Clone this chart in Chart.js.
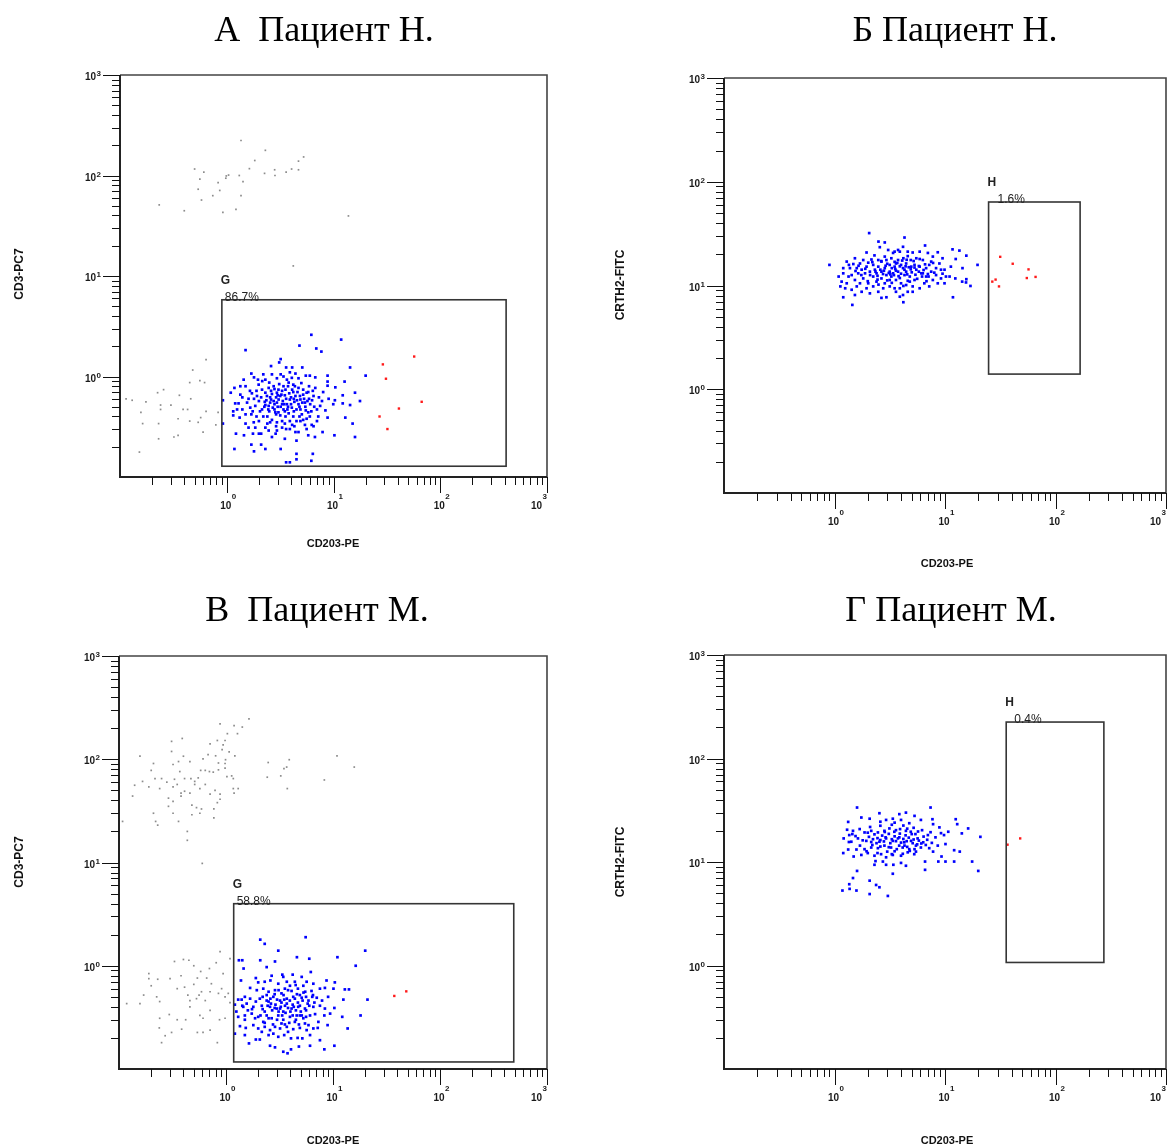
<!DOCTYPE html>
<html>
<head>
<meta charset="utf-8">
<script src="https://cdn.jsdelivr.net/npm/chart.js@4.4.1/dist/chart.umd.min.js"></script>
<style>
    body { margin: 0; background: #fff; width: 1170px; height: 1146px; position: relative; overflow: hidden; }
    .panel { position: absolute; width: 585px; height: 573px; }
    canvas { display: block; }
</style>
</head>
<body>
<div class="panel" style="left:0;top:0"><canvas id="chartA" width="585" height="573"></canvas></div>
<div class="panel" style="left:585px;top:0"><canvas id="chartB" width="585" height="573"></canvas></div>
<div class="panel" style="left:0;top:573px"><canvas id="chartC" width="585" height="573"></canvas></div>
<div class="panel" style="left:585px;top:573px"><canvas id="chartD" width="585" height="573"></canvas></div>
<script>
// ---- events: [CD203-PE, second marker] ----
// A: CD203-PE / CD3-PC7, пациент Н.
const aBlue = [
    [6.2,2.6],[11.8,2.33],[1.5,1.83],[4.8,2.03],[6.9,1.9],[7.7,1.77],[3.2,1.49],[3.1,1.38],[14.3,1.23],[20,1.02],
    [2.6,1.27],[3.6,1.23],[4.1,1.23],[5.1,1.23],[1.7,1.07],[1.8,0.98],[2.2,1.05],[2.65,1.05],[3.2,1.05],[3.9,1.1],
    [4.4,1.07],[5.5,1.02],[6.0,1.02],[6.75,0.98],[8.8,1.02],[8.8,0.89],[8.8,0.81],[10.4,0.78],[12.7,0.89],[15.9,0.69],
    [17.7,0.57],[12.2,0.65],[12.2,0.54],[14.3,0.52],[12.9,0.39],[15.1,0.34],[15.9,0.25],[10.2,0.26],[7.9,0.28],[8.8,0.39],
    [6.7,0.25],[6.4,0.17],[4.5,0.17],[4.5,0.15],[3.9,0.14],[3.6,0.14],[6.2,0.145],[3.2,0.19],[2.3,0.19],[2.1,0.21],
    [1.8,0.18],[1.7,0.21],[1.18,0.19],[1.76,0.27],[2.1,0.27],[2.87,0.27],[1.22,0.27],[1.45,0.26],[0.92,0.58],[0.92,0.34],
    [1.09,0.69],[1.18,0.77],[1.15,0.45],[1.15,0.41],[1.2,0.54],[1.32,0.39],[1.5,0.34],[1.6,0.31],[1.5,0.42],[1.7,0.42],
    [1.5,0.8],[1.72,0.68],[2.0,0.57],[1.85,0.51],[2.3,0.52],[2.5,0.45],[2.4,0.40],[2.65,0.37],[2.95,0.35],[3.5,0.34],
    [4.1,0.33],[4.7,0.28],[5.4,0.33],[5.6,0.38],[5.05,0.42],[4.5,0.47],[4.07,0.49],[3.5,0.45],[3.17,0.41],[2.85,0.44],
    [2.7,0.49],[2.47,0.51],[2.6,0.59],[2.95,0.55],[3.3,0.53],[3.66,0.53],[3.9,0.59],[4.4,0.64],[4.9,0.59],[5.4,0.55],
    [6.05,0.53],[6.5,0.64],[6.75,0.77],[5.9,0.8],[5.2,0.74],[4.7,0.77],[4.2,0.83],[3.8,0.87],[3.4,0.8],[3.05,0.74],
    [2.75,0.8],[2.47,0.77],[2.3,0.69],[2.14,0.74],[1.99,0.83],[1.92,0.64],[2.14,0.47],[2.2,0.40],[2.0,0.36],[1.79,0.35],
    [3.3,0.31],[3.9,0.30],[4.5,0.36],[6.25,0.33],[7.2,0.40],[7.5,0.51],[7.0,0.47],[7.8,0.57],[8.4,0.46],[9.95,0.53],
    [10.3,0.58],[5.8,0.44],[5.2,0.66],[5.6,0.69],[4.9,0.47],[3.5,0.65],[3.17,0.64],[2.95,0.69],[2.65,0.67],[2.38,0.64],
    [2.27,0.56],[2.8,0.53],[3.06,0.59],[3.4,0.47],[3.8,0.43],[4.2,0.40],[4.7,0.53],[5.2,0.37],[3.66,0.93],[4.07,0.97],
    [4.7,0.96],[2.95,0.96],[2.3,0.93],[1.96,0.93],[1.44,0.93],[1.34,0.8],[1.34,0.66],[1.55,0.55],[1.66,0.49],[1.29,0.54],
    [4.4,0.28],[2.95,0.29],[2.47,0.29],[2.65,0.25],[3.5,0.24],[4.5,0.23],[5.8,0.26],[6.5,0.32],[2.3,0.31],[2.0,0.27],
    [1.85,0.31],[2.55,0.62],[2.9,0.62],[3.25,0.66],[3.6,0.6],[4.0,0.62],[4.3,0.56],[3.75,0.5],[3.35,0.57],[3.0,0.5],
    [2.75,0.57],[2.45,0.47],[2.9,0.42],[3.55,0.40],[4.25,0.45],[4.8,0.5],[5.3,0.6],[5.7,0.57],[4.6,0.7],[4.1,0.74],
    [3.55,0.74],[3.1,0.84],[2.6,0.72],[2.35,0.58],[3.85,0.68],[4.35,0.8],[5.0,0.86],[5.5,0.46],[6.2,0.45],[6.6,0.5],
    [3.3,0.36],[3.9,0.36],[2.55,0.35],[4.8,0.4],[5.8,0.7],[6.3,0.58],[2.05,0.45],[1.8,0.6],[1.65,0.72],[2.15,0.9],
    [3.4,1.0],[1.4,0.47],[1.6,0.6],[1.75,0.45],[1.9,0.4],[2.1,0.62],[2.25,0.5],[2.55,0.55],[2.8,0.47],[3.05,0.44],
    [3.2,0.5],[3.45,0.53],[3.7,0.47],[4.0,0.53],[4.25,0.6],[4.55,0.58],[4.85,0.64],[5.1,0.55],[5.45,0.5],[5.9,0.6],
    [6.4,0.72],[3.0,0.65],[3.3,0.72],[3.75,0.8],[4.2,0.7],[2.8,0.75],[2.5,0.87],[1.9,0.72],[4.9,0.36],[4.3,0.32],
    [3.6,0.3],[2.9,0.32],[2.4,0.34],[5.6,0.3],[7.3,0.62],[8.0,0.7],[9.0,0.6],[7.0,0.36],[6.0,0.4],[1.4,0.62],
    [1.25,0.47]
];
const aGray = [
    [0.114,0.60],[0.13,0.58],[0.175,0.56],[0.157,0.44],[0.163,0.34],[0.152,0.177],[0.23,0.24],[0.23,0.34],[0.24,0.52],[0.225,0.69],
    [0.256,0.74],[0.30,0.52],[0.32,0.25],[0.36,0.65],[0.39,0.47],[0.35,0.38],[0.43,0.47],[0.46,0.60],[0.48,1.16],[0.45,0.87],
    [0.45,0.36],[0.57,0.39],[0.54,0.35],[0.64,1.47],[0.56,0.91],[0.62,0.87],[0.64,0.45],[0.60,0.28],[0.79,0.33],[0.83,0.44],
    [0.1,0.30],[0.35,0.26],[0.24,0.47],
    [0.233,51],[0.40,44.6],[0.50,116],[0.61,108],[0.56,92],[0.54,73],[0.58,57],[0.74,63],[0.83,85],[0.86,71],
    [0.92,43],[0.99,99],[1.04,101],[0.98,94],[1.22,46],[1.31,100],[1.42,87],[1.36,63],[1.36,223],[1.63,117],
    [1.83,141],[2.3,178],[2.26,105],[2.83,100],[2.81,114],[3.6,108],[4.05,116],[4.7,139],[4.7,114],[5.25,153],
    [13.8,39.6],[4.2,12.6]
];
const aRed = [[57,1.58],[29,1.32],[31,0.95],[67,0.56],[41,0.48],[27,0.40],[32,0.30]];
const gateA = [0.9, 414, 0.128, 5.8];          // CD203 from/to, CD3 from/to

// Б: CD203-PE / CRTH2-FITC, пациент Н.
const bBlue = [
    [2.06,32],[0.9,15.8],[2.85,26],[4.3,29],[2.5,26.5],[6.6,24.3],[1.95,20.8],[2.57,23.4],[3.5,21.2],[3.9,21.2],
    [5.1,20.8],[8.6,20.9],[11.7,22.3],[15.6,19.4],[12.5,18],[19.7,15.8],[14.4,14.7],[15.6,11.5],[17,9.9],[14.3,10.9],
    [11.8,7.7],[9.9,14.2],[10.2,12.2],[8.9,16.3],[7.5,17],[6.3,17.6],[5.5,18.3],[4.6,19.2],[4.2,18.3],[3.76,17.6],
    [3.27,18.3],[2.85,19],[2.49,17.6],[2.16,17.8],[1.82,17.6],[1.53,18.3],[1.48,16.1],[1.29,17],[1.2,14.7],[1.09,12.2],
    [1.16,10.9],[1.13,9.8],[1.25,9.4],[1.43,9.1],[1.59,9.8],[1.7,10.5],[1.82,11.7],[1.64,13.1],[1.43,12.6],[1.38,14.7],
    [1.59,14.7],[1.76,14.2],[1.95,15.2],[2.09,13.6],[2.24,12.2],[2.4,10.9],[2.24,9.8],[1.95,9.4],[1.76,8.7],[1.53,8.1],
    [1.2,7.7],[1.45,6.5],[2.66,7.6],[2.95,7.7],[3.9,7.8],[4.2,6.9],[4.6,8.7],[3.6,8.7],[3.16,9.8],[2.85,10.5],
    [2.66,11.7],[2.95,12.6],[3.27,12.2],[3.6,11.3],[4.0,10.5],[4.45,10.1],[5.1,9.8],[5.9,9.4],[6.5,10.5],[7.2,9.8],
    [7.76,11.3],[8.6,10.5],[6.75,12.2],[6.1,13.1],[5.5,14.2],[4.95,15.2],[4.45,16.3],[4.17,14.7],[3.76,13.6],[3.5,15.2],
    [3.16,15.8],[2.85,14.7],[2.66,13.6],[2.49,15.2],[2.4,13.1],[3.16,13.6],[3.39,13.1],[4.3,12.6],[4.8,12.2],[5.3,11.3],
    [4.8,10.9],[5.3,15.8],[5.9,15.2],[6.75,14.7],[7.5,13.6],[8.3,12.6],[9.2,11.7],[9.9,10.5],[11,12.2],[12.4,11.7],
    [11.3,15.2],[9.5,18.3],[7.76,19],[7,20.6],[5.9,21.2],[4.6,21.2],[4.17,23.6],[3.76,22],[3.39,20.6],[3.06,22],
    [2.95,17.6],[2.66,17],[2.24,15.8],[2.02,16.6],[1.7,16.3],[3.16,11.3],[2.76,9.4],[2.49,8.7],[2.09,8.4],[2.02,10.5],
    [3.9,9.4],[3.5,9.4],[5.1,8.7],[4.17,8.1],[7.1,12.2],[15.5,10.7],[13.5,21.7],[6.3,13.1],[4.0,15.8],[4.45,13.6],
    [3.6,16.3],[2.32,14.2],[1.89,13.1],[1.53,11.3],[1.34,12.2],[1.2,13.1],[1.29,10.5],[9.2,14.2],[8.3,14.7],
    [2.6,14.2],[2.9,15.5],[3.3,14.7],[3.6,13.9],[3.9,15.3],[4.3,14.2],[4.7,15],[5.0,13.4],[2.35,13.6],[2.75,12.9],
    [3.1,13.2],[3.45,12.6],[3.8,12.3],[4.55,12.8],[5.4,12.7],[5.8,15.4],[2.2,16.8],[2.65,17.2],[3.5,16.9],[4.1,17.4],
    [4.9,17.6],[1.9,14.5],[1.65,15.5],[6.6,16],[7.2,15.8],[6.2,12.2],[3.0,11.2],[3.9,11.8],[4.6,11.1],[2.45,11.4],
    [2.1,12.6],[2.45,12.4],[2.8,13.9],[3.2,12.8],[3.55,14.4],[4.0,13.0],[4.4,15.3],[4.9,14.3],[5.3,14.9],[5.8,13.6],
    [6.4,14.1],[7.0,12.9],[3.0,16.2],[3.7,16.5],[4.5,17.7],[5.2,17.2],[5.9,18.0],[2.5,10.2],[3.3,10.6],[4.2,9.9],
    [1.75,12.6],[1.55,13.8],[2.0,11.0],[5.6,11.6],[6.8,11.0],[8.0,13.3],[9.5,13],[7.8,16.5],[1.35,15.8],[2.3,19.5]
];
const bRed = [[31.6,18.9],[41,16.2],[57,14.3],[66,12.1],[55,11.8],[28.7,11.4],[26.8,10.9],[30.8,9.8]];
const gateB = [24.8, 167, 1.4, 63.8];           // CD203 from/to, CRTH2 from/to

// В: CD203-PE / CD3-PC7, пациент М.
const cBlue = [
    [5.55,1.89],[2.09,1.79],[2.3,1.63],[3.08,1.40],[20,1.40],[4.6,1.21],[6.0,1.17],[11,1.21],[1.32,1.13],[1.42,1.13],
    [2.09,1.13],[2.87,1.1],[16.3,1.0],[1.46,0.94],[2.4,0.97],[6.2,0.87],[3.36,0.82],[4.2,0.82],[1.9,0.76],[1.38,0.72],
    [2.6,0.72],[2.3,0.70],[3.08,0.67],[3.7,0.70],[4.4,0.70],[5.67,0.70],[6.55,0.67],[8.7,0.72],[10.4,0.69],[2.0,0.69],
    [1.68,0.61],[1.94,0.58],[2.23,0.60],[2.5,0.56],[2.87,0.58],[3.3,0.54],[3.8,0.58],[4.7,0.60],[5.5,0.56],[6.3,0.57],
    [7.55,0.60],[8.4,0.61],[10.1,0.60],[12.9,0.59],[14.1,0.59],[1.5,0.50],[1.68,0.48],[1.3,0.47],[2.07,0.48],[2.4,0.46],
    [2.77,0.50],[3.2,0.46],[3.7,0.48],[4.25,0.50],[5.1,0.49],[5.9,0.46],[7.05,0.49],[7.9,0.46],[9.0,0.50],[12.5,0.47],
    [21,0.47],[1.21,0.42],[1.42,0.41],[1.56,0.43],[1.8,0.40],[2.16,0.41],[2.58,0.40],[2.98,0.385],[3.56,0.41],[4.1,0.385],
    [4.73,0.40],[5.47,0.385],[6.55,0.40],[7.55,0.41],[8.4,0.385],[10.3,0.39],[1.3,0.32],[1.5,0.33],[1.74,0.344],[2.0,0.32],
    [2.4,0.33],[2.67,0.31],[3.08,0.33],[3.43,0.30],[3.96,0.32],[4.58,0.33],[5.28,0.31],[6.1,0.33],[6.8,0.34],[8.3,0.33],
    [9.4,0.344],[12.2,0.32],[18.1,0.33],[1.35,0.26],[1.53,0.25],[1.8,0.266],[2.0,0.247],[2.3,0.256],[2.58,0.238],[2.87,0.256],
    [3.2,0.247],[3.7,0.256],[4.25,0.243],[4.9,0.25],[5.9,0.266],[6.55,0.247],[7.2,0.25],[8.9,0.266],[13.7,0.247],[1.21,0.22],
    [1.9,0.193],[1.64,0.177],[2.07,0.193],[2.5,0.213],[3.08,0.205],[3.5,0.213],[4.05,0.198],[4.67,0.2],[5.17,0.198],[6.1,0.213],
    [7.55,0.19],[2.58,0.168],[2.87,0.162],[3.43,0.147],[3.76,0.142],[4.05,0.155],[4.8,0.165],[6.1,0.168],[8.3,0.155],[10.3,0.168],
    [2.67,0.80],[3.43,0.78],[5.1,0.78],[4.48,0.65],[3.96,0.64],[5.28,0.64],[6.4,0.5],[2.63,0.43],[3.43,0.36],[2.3,0.36],
    [1.87,0.31],[2.23,0.286],[3.3,0.276],[4.4,0.286],[5.47,0.276],[7.3,0.286],[1.5,0.3],[5.67,0.238],[3.8,0.229],[2.77,0.22],
    [2.16,0.229],[1.5,0.213],[5.1,0.33],[3.2,0.385],
    [2.5,0.45],[2.9,0.42],[3.3,0.44],[3.7,0.43],[4.2,0.42],[4.7,0.44],[5.2,0.46],[2.7,0.37],[3.1,0.36],[3.6,0.35],
    [4.0,0.36],[4.5,0.37],[5.0,0.36],[5.6,0.37],[2.2,0.38],[1.9,0.45],[1.6,0.37],[2.4,0.52],[2.85,0.53],[3.45,0.52],
    [4.6,0.53],[5.3,0.55],[6.0,0.41],[6.7,0.44],[3.9,0.28],[4.5,0.3],[3.0,0.3],[2.3,0.28],[1.4,0.47],[1.25,0.36],
    [2.2,0.5],[2.6,0.48],[3.0,0.47],[3.5,0.47],[3.95,0.46],[4.4,0.48],[4.9,0.52],[5.6,0.5],[2.45,0.41],[2.85,0.39],
    [3.25,0.4],[3.8,0.39],[4.3,0.4],[4.9,0.41],[5.8,0.43],[2.1,0.33],[2.5,0.31],[3.35,0.33],[4.2,0.33],[4.9,0.33],
    [5.6,0.32],[1.75,0.38],[1.45,0.4],[3.55,0.27],[4.8,0.27],[2.75,0.27],[3.1,0.58],[3.55,0.6],[4.1,0.57],[6.5,0.52]
];
const cGray = [
    [1.64,246],[0.88,220],[1.19,212],[1.42,205],[1.03,177],[1.28,177],[0.31,149],[0.39,159],[0.71,141],[0.83,152],
    [0.98,152],[0.94,138],[0.92,124],[1.07,118],[1.21,108],[0.157,107],[0.31,119],[0.40,107],[0.68,111],[0.80,108],
    [0.99,99],[0.98,91],[0.85,92],[0.61,101],[0.46,95],[0.36,95],[0.32,89],[0.21,91],[0.20,78],[0.166,61],
    [0.217,65],[0.25,65],[0.28,60],[0.33,64],[0.37,76],[0.41,65],[0.47,65],[0.51,57],[0.55,66],[0.58,78],
    [0.64,78],[0.70,76],[0.76,75],[0.85,79],[0.98,82],[1.02,68],[1.13,69],[1.17,65],[1.30,52],[1.19,47],
    [0.88,46],[0.79,50],[0.71,46],[0.64,57],[0.57,52],[0.51,61],[0.46,47],[0.41,49],[0.38,47],[0.35,57],
    [0.32,54],[0.29,42],[0.32,39],[0.38,44],[0.48,36],[0.53,34],[0.59,33],[0.88,41],[0.83,38],[0.77,33],
    [0.77,27],[0.57,30],[0.48,29],[0.32,30],[0.29,35],[0.21,30],[0.22,25],[0.23,23],[0.134,44],[0.108,25],
    [0.14,56],[0.19,54],[0.24,52],[0.36,25],[0.435,20],[0.435,16.4],[0.60,9.8],[1.17,52],
    [2.48,93],[2.43,67],[3.25,69],[3.48,81],[3.69,84],[3.9,99],[3.74,52],[8.3,63],[10.9,108],[15.8,84],
    [0.88,1.37],[0.81,1.07],[0.70,0.94],[0.58,0.88],[0.50,1.0],[0.45,1.13],[0.40,1.15],[0.33,1.1],[0.54,0.76],[0.66,0.76],
    [0.73,0.67],[0.91,0.60],[0.85,0.54],[0.98,0.50],[1.09,0.44],[1.09,1.17],[0.94,0.84],[0.71,0.56],[0.59,0.56],[0.53,0.48],
    [0.46,0.46],[0.50,0.66],[0.41,0.62],[0.38,0.80],[0.35,0.60],[0.30,0.75],[0.23,0.74],[0.19,0.84],[0.20,0.64],[0.17,0.52],
    [0.157,0.43],[0.118,0.43],[0.225,0.50],[0.24,0.45],[0.295,0.337],[0.35,0.30],[0.42,0.30],[0.46,0.40],[0.57,0.33],[0.61,0.31],
    [0.71,0.37],[0.87,0.30],[0.98,0.31],[0.385,0.243],[0.31,0.226],[0.238,0.25],[0.27,0.21],[0.54,0.226],[0.61,0.226],[0.71,0.238],
    [0.25,0.18],[0.83,0.18],[0.1,0.39],[0.1,0.35],[0.24,0.31],[0.19,0.75],[1.05,0.54],[0.44,0.52],[0.56,0.52],[0.64,0.46]
];
const cRed = [[48.4,0.565],[37.4,0.51]];
const gateC = [1.18, 489, 0.117, 3.99];

// Г: CD203-PE / CRTH2-FITC, пациент М.
const dBlue = [
    [1.6,33.6],[7.4,33.6],[2.55,29.6],[5.3,27.9],[1.75,26.9],[1.33,24.4],[2.08,26.2],[2.93,25.5],[3.37,26.2],[4.0,25.5],
    [4.75,23.7],[6.05,25.5],[7.7,25.9],[12.5,25.9],[7.8,23.2],[8.9,21.6],[12.9,23.2],[16.2,21.1],[14.2,18.9],[20.9,17.5],
    [10.7,19.6],[9.8,18.2],[10.1,14.9],[12.1,13],[13.6,12.6],[17.6,10.1],[20,8.2],[12.1,10.1],[10.1,10.1],[8.7,10.1],
    [6.6,10.1],[9.3,11.3],[7.8,12.6],[7.2,13.6],[6.35,15.5],[5.65,16.9],[5.0,18.6],[4.43,20],[3.92,20.8],[3.48,19.6],
    [3.14,21.1],[2.83,20],[2.47,19.3],[2.15,20],[1.87,19.3],[1.69,20.8],[1.47,20],[1.36,18.2],[1.21,16.9],[1.42,15.7],
    [1.63,16.9],[1.94,16],[2.23,16.6],[2.55,15.7],[2.93,16.9],[3.37,16],[3.86,17.3],[4.28,15.5],[4.93,16],[5.46,14.4],
    [6.05,13.8],[5.46,12.6],[4.75,13.3],[4.14,13.8],[3.66,13.3],[3.25,13.8],[2.83,14.4],[2.47,13.6],[2.15,13.8],[1.87,13.3],
    [1.58,13.2],[1.33,13.2],[1.2,12.2],[1.49,11.3],[1.75,11.7],[2.0,12.2],[2.3,11.5],[2.64,11.9],[2.93,11.1],[3.37,11.7],
    [4.0,11.5],[4.6,12.4],[5.27,11.9],[2.35,10.2],[2.74,10.1],[2.93,9.4],[2.3,9.4],[3.41,9.4],[4.0,9.8],[4.43,9.2],
    [1.6,8.2],[6.6,8.4],[3.37,7.7],[2.08,6.6],[1.36,6.1],[1.47,7.0],[2.38,6.0],[2.55,5.7],[1.18,5.3],[1.37,5.5],
    [1.58,5.3],[2.08,4.9],[3.04,4.7],[3.86,29],[4.43,30],
    [2.3,18.5],[2.7,18],[3.1,18.7],[3.5,17.7],[3.9,18.8],[4.4,18.1],[4.9,19.6],[5.4,18.6],[2.05,17.5],[1.8,16.2],
    [2.4,15.2],[2.8,15.8],[3.2,15.2],[3.6,15.9],[4.0,15.4],[4.5,15.9],[5.1,15.2],[5.8,16.1],[6.4,17.6],[7.0,18.2],
    [2.2,14.6],[2.6,14.1],[3.0,12.6],[3.5,12.7],[4.3,14.4],[4.8,12.8],[5.3,13.3],[6.7,14.6],[7.6,15.3],[8.2,17.3],
    [1.55,17.8],[1.35,15.6],[1.3,20.5],[2.1,21.8],[2.6,22.4],[3.3,22.9],[4.2,22.5],[5.2,21.4],[6.2,20.3],[9.2,19],
    [2.45,17.0],[2.9,17.3],[3.3,16.6],[3.75,16.9],[4.2,16.7],[4.7,17.2],[5.2,16.5],[2.15,15.6],[2.6,16.3],[3.1,13.9],
    [3.85,14.4],[4.55,14.0],[5.6,14.8],[6.1,15.1],[2.0,19.2],[2.85,19.5],[3.6,20.3],[4.55,21.0],[5.7,19.7],[1.95,12.7],
    [2.45,12.2],[3.3,11.9],[4.15,12.0],[1.7,14.4],[1.45,18.6],[6.9,16.4],[7.4,19.4],[8.6,14.4],[3.5,24.0],[2.6,24.5]
];
const dRed = [[36.8,14.7],[47.9,16.9]];
const gateD = [35.8, 274, 1.07, 225];

// axis decades (10^-1 .. 10^3) and labelled exponents
const decades = [0.1, 1, 10, 100, 1000];
const labelExponents = [0, 1, 2, 3];

const sans = '"Liberation Sans", Arial, Helvetica, sans-serif';

function toXY(list) {
    return list.map(p => ({ x: p[0], y: p[1] }));
}

// "10" with a raised exponent; anchor = 'center' | 'right' (of the whole label)
function drawPow(ctx, exp, x, baseY, anchor, supRaise) {
    ctx.font = 'bold 10px ' + sans;
    const wBase = ctx.measureText('10').width;
    ctx.font = 'bold 8px ' + sans;
    const wSup = ctx.measureText(String(exp)).width;
    let left;
    if (anchor === 'right') left = x - wBase - wSup - 0.5;
    else left = x - wBase / 2 - 1;
    ctx.textAlign = 'left';
    ctx.textBaseline = 'alphabetic';
    ctx.fillStyle = '#1a1a1a';
    ctx.font = 'bold 10px ' + sans;
    ctx.fillText('10', left, baseY);
    ctx.font = 'bold 8px ' + sans;
    ctx.fillText(String(exp), left + wBase + 0.5, baseY - supRaise);
}

// frame, log ticks, labels, gate and titles around the dot plot
const cytoFrame = {
    id: 'cytoFrame',
    afterDatasetsDraw(chart, args, o) {
        const { ctx, chartArea: a, scales } = chart;
        const sx = scales.x, sy = scales.y;
        ctx.save();

        // gate rectangle + its name and percentage
        const gx1 = sx.getPixelForValue(o.gate[0]);
        const gx2 = sx.getPixelForValue(o.gate[1]);
        const gy1 = sy.getPixelForValue(o.gate[3]);
        const gy2 = sy.getPixelForValue(o.gate[2]);
        ctx.strokeStyle = '#353535';
        ctx.lineWidth = 1.6;
        ctx.strokeRect(gx1, gy1, gx2 - gx1, gy2 - gy1);
        ctx.fillStyle = '#222';
        ctx.textAlign = 'left';
        ctx.textBaseline = 'alphabetic';
        ctx.font = 'bold 12px ' + sans;
        ctx.fillText(o.gateName, gx1 - 1, gy1 - 16);
        ctx.font = '12px ' + sans;
        ctx.fillText(o.gatePct, gx1 + o.pctShift, gy1 + 1);

        // top / right border
        ctx.strokeStyle = '#444';
        ctx.lineWidth = 1.6;
        ctx.beginPath();
        ctx.moveTo(a.left, a.top);
        ctx.lineTo(a.right, a.top);
        ctx.lineTo(a.right, a.bottom);
        ctx.stroke();

        // axis lines
        ctx.strokeStyle = '#222';
        ctx.lineWidth = 2;
        ctx.beginPath();
        ctx.moveTo(a.left, a.top);
        ctx.lineTo(a.left, a.bottom);
        ctx.lineTo(a.right, a.bottom);
        ctx.stroke();

        // log ticks: decades long, 2..9 short
        ctx.strokeStyle = '#111';
        ctx.lineWidth = 1;
        ctx.beginPath();
        decades.forEach((d, i) => {
            if (i > 0) {
                const px = Math.round(sx.getPixelForValue(d)) + 0.5;
                ctx.moveTo(px, a.bottom);
                ctx.lineTo(px, a.bottom + 16);
                const py = Math.round(sy.getPixelForValue(d)) + 0.5;
                ctx.moveTo(a.left, py);
                ctx.lineTo(a.left - 17, py);
            }
            if (d < 1000) {
                for (let m = 2; m <= 9; m++) {
                    const px = Math.round(sx.getPixelForValue(d * m)) + 0.5;
                    ctx.moveTo(px, a.bottom);
                    ctx.lineTo(px, a.bottom + 8);
                    const py = Math.round(sy.getPixelForValue(d * m)) + 0.5;
                    ctx.moveTo(a.left, py);
                    ctx.lineTo(a.left - 8, py);
                }
            }
        });
        ctx.stroke();

        // decade labels
        labelExponents.forEach(e => {
            const v = Math.pow(10, e);
            const px = sx.getPixelForValue(v);
            const last = e === labelExponents[labelExponents.length - 1];
            drawPow(ctx, e, px, a.bottom + 32, last ? 'right' : 'center', 10);
            const py = sy.getPixelForValue(v);
            drawPow(ctx, e, a.left - 19, py + 5, 'right', 4);
        });

        // axis titles
        ctx.fillStyle = '#111';
        ctx.font = 'bold 11px ' + sans;
        ctx.textAlign = 'center';
        ctx.fillText('CD203-PE', o.xTitle[0], o.xTitle[1]);
        ctx.save();
        ctx.translate(o.yTitle[0], o.yTitle[1]);
        ctx.rotate(-Math.PI / 2);
        ctx.font = 'bold 12px ' + sans;
        ctx.textBaseline = 'middle';
        ctx.fillText(o.yLabel, 0, 0);
        ctx.restore();

        // panel heading
        ctx.fillStyle = '#000';
        ctx.font = '36px "Liberation Serif", "Times New Roman", serif';
        ctx.textAlign = 'center';
        ctx.textBaseline = 'alphabetic';
        ctx.fillText(o.heading, o.headingPos[0], o.headingPos[1]);

        ctx.restore();
    }
};

const panels = [
    {
        id: 'chartA', heading: 'А  Пациент Н.', headingPos: [324, 41],
        pad: { left: 120, top: 75, right: 38, bottom: 96 },
        yLabel: 'CD3-PC7', yTitle: [20, 274], xTitle: [333, 547],
        gray: aGray, blue: aBlue, red: aRed,
        gate: gateA, gateName: 'G', gatePct: '86.7%', pctShift: 3
    },
    {
        id: 'chartB', heading: 'Б Пациент Н.', headingPos: [370, 41],
        pad: { left: 139, top: 78, right: 2, bottom: 80 },
        yLabel: 'CRTH2-FITC', yTitle: [36, 285], xTitle: [362, 567],
        gray: [], blue: bBlue, red: bRed,
        gate: gateB, gateName: 'H', gatePct: '1.6%', pctShift: 9
    },
    {
        id: 'chartC', heading: 'В  Пациент М.', headingPos: [317, 48],
        pad: { left: 119, top: 83, right: 38, bottom: 77 },
        yLabel: 'CD3-PC7', yTitle: [20, 289], xTitle: [333, 571],
        gray: cGray, blue: cBlue, red: cRed,
        gate: gateC, gateName: 'G', gatePct: '58.8%', pctShift: 3
    },
    {
        id: 'chartD', heading: 'Г Пациент М.', headingPos: [366, 48],
        pad: { left: 139, top: 82, right: 2, bottom: 77 },
        yLabel: 'CRTH2-FITC', yTitle: [36, 289], xTitle: [362, 571],
        gray: [], blue: dBlue, red: dRed,
        gate: gateD, gateName: 'H', gatePct: '0.4%', pctShift: 8
    }
];

panels.forEach(p => {
    new Chart(document.getElementById(p.id), {
        type: 'scatter',
        data: {
            datasets: [
                {
                    label: 'other',
                    data: toXY(p.gray),
                    pointStyle: 'rect',
                    pointRadius: 1.2,
                    backgroundColor: '#8c8c8c',
                    borderWidth: 0
                },
                {
                    label: 'basophils',
                    data: toXY(p.blue),
                    pointStyle: 'rect',
                    pointRadius: 1.9,
                    backgroundColor: '#0000ff',
                    borderWidth: 0
                },
                {
                    label: 'gated',
                    data: toXY(p.red),
                    pointStyle: 'rect',
                    pointRadius: 1.7,
                    backgroundColor: '#ff1a1a',
                    borderWidth: 0
                }
            ]
        },
        options: {
            responsive: false,
            animation: false,
            layout: { padding: p.pad },
            plugins: {
                legend: { display: false },
                tooltip: { enabled: false },
                cytoFrame: {
                    heading: p.heading, headingPos: p.headingPos,
                    yLabel: p.yLabel, yTitle: p.yTitle, xTitle: p.xTitle,
                    gate: p.gate, gateName: p.gateName, gatePct: p.gatePct, pctShift: p.pctShift
                }
            },
            scales: {
                x: { type: 'logarithmic', min: 0.1, max: 1000, display: false },
                y: { type: 'logarithmic', min: 0.1, max: 1000, display: false }
            }
        },
        plugins: [cytoFrame]
    });
});
</script>
</body>
</html>
